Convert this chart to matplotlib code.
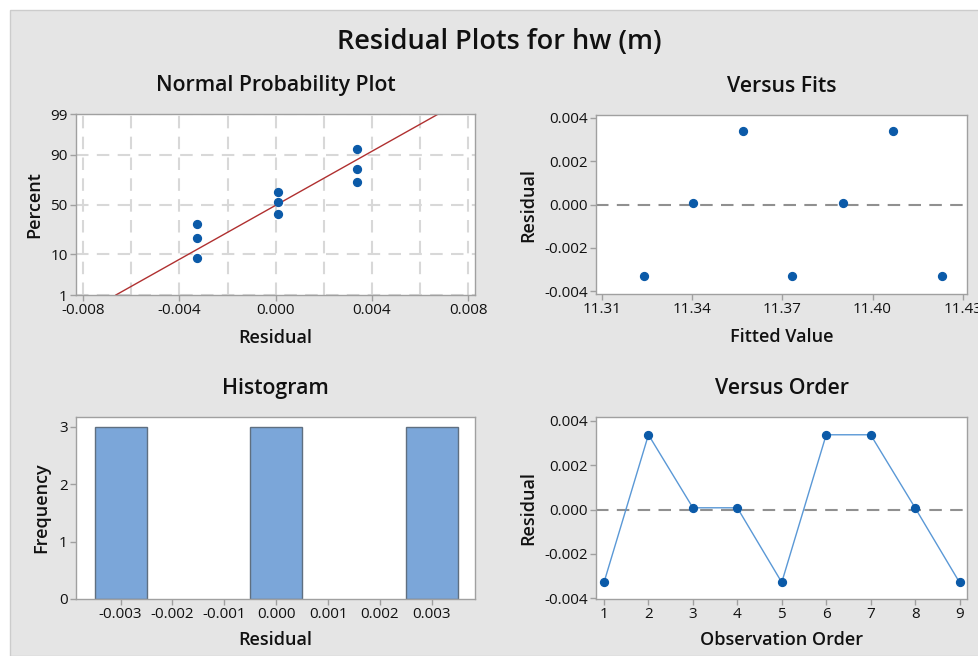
import matplotlib
matplotlib.use("Agg")
import matplotlib.pyplot as plt
from matplotlib.patches import Rectangle
from statistics import NormalDist
import numpy as np

# residuals in observation order
obs_order = [1, 2, 3, 4, 5, 6, 7, 8, 9]
residuals = [-0.00328, 0.00337, 0.00008, 0.00008, -0.00328, 0.00337, 0.00337, 0.00008, -0.00328]

# normal probability plot (sorted residuals vs percent)
npp_resid = [-0.00328, -0.00328, -0.00328, 0.00008, 0.00008, 0.00008, 0.00337, 0.00337, 0.00337]
npp_pct = [8.5, 19.7, 30.4, 40.3, 52.3, 62.2, 71.7, 81.9, 92.5]
pct_ticks = [1, 10, 50, 90, 99]

# versus fits
fits = [11.324, 11.3404, 11.3569, 11.3733, 11.3903, 11.4067, 11.4232]
fit_resid = [-0.00328, 0.00008, 0.00337, -0.00328, 0.00008, 0.00337, -0.00328]

# histogram
hist_centers = [-0.003, 0.000, 0.003]
hist_counts = [3, 3, 3]
hist_width = 0.001

BG = "#E5E5E5"
DOT = "#0B5AA8"
TXT = "#111111"
SPINE = "#A0A0A0"
LBL = dict(fontsize=13, fontweight="semibold", color=TXT)

plt.rcParams["font.family"] = ["Open Sans", "DejaVu Sans"]
plt.rcParams["font.size"] = 10

fig = plt.figure(figsize=(9.79, 6.56), dpi=100)
fig.patch.set_facecolor("white")
panel = Rectangle((10 / 979, 0), 1, 646 / 656, transform=fig.transFigure,
                  facecolor=BG, edgecolor="#CCCCCC", lw=1, zorder=-10)
fig.add_artist(panel)

fig.text(0.5105, 0.936, "Residual Plots for hw (m)", ha="center", va="center",
         fontsize=19.5, fontweight="semibold", color=TXT)


def style(ax):
    ax.set_facecolor("white")
    for s in ax.spines.values():
        s.set_color(SPINE)
        s.set_linewidth(1)
    ax.tick_params(direction="out", length=4, width=1, color=SPINE,
                   labelsize=11, labelcolor=TXT, pad=2)


def title(ax, txt):
    ax.set_title(txt, fontsize=15.3, fontweight="semibold", color=TXT, pad=16.5)


# ---- Normal probability plot
ax1 = fig.add_axes([0.0776, 0.5503, 0.4076, 0.2759])
style(ax1)
nd = NormalDist()
z = [nd.inv_cdf(p / 100) for p in npp_pct]
mu = np.mean(residuals)
sd = np.std(residuals, ddof=1)
zl = np.array([nd.inv_cdf(0.01), nd.inv_cdf(0.99)])
ax1.plot(mu + sd * zl, zl, color="#B03030", lw=1, zorder=2)
ax1.scatter(npp_resid, z, s=32, color=DOT, zorder=3)
ax1.set_xlim(-0.0083, 0.00828)
ax1.set_ylim(zl[0], zl[1])
ax1.set_xticks([-0.008, -0.004, 0.0, 0.004, 0.008])
ax1.set_xticklabels(["-0.008", "-0.004", "0.000", "0.004", "0.008"])
ax1.set_xticks(np.arange(-0.008, 0.0081, 0.002), minor=True)
ax1.tick_params(axis="x", which="minor", length=0)
ax1.set_yticks([nd.inv_cdf(p / 100) for p in pct_ticks])
ax1.set_yticklabels([str(p) for p in pct_ticks])
ax1.grid(True, which="both", color="#D8D8D8", lw=1.5, ls=(0, (6, 4)), zorder=0)
ax1.set_axisbelow(True)
ax1.set_xlabel("Residual", labelpad=8, **LBL)
ax1.set_ylabel("Percent", labelpad=5, **LBL)
title(ax1, "Normal Probability Plot")

# ---- Versus fits
ax2 = fig.add_axes([0.6088, 0.5518, 0.3790, 0.2729])
style(ax2)
ax2.axhline(0, color="#909090", lw=1.5, ls=(0, (6, 4)), zorder=1)
ax2.scatter(fits, fit_resid, s=32, color=DOT, zorder=3)
ax2.set_xlim(11.3081, 11.4314)
ax2.set_ylim(-0.00412, 0.00412)
ax2.set_xticks([11.31, 11.34, 11.37, 11.40, 11.43])
ax2.set_xticklabels(["11.31", "11.34", "11.37", "11.40", "11.43"])
ax2.set_yticks([-0.004, -0.002, 0.0, 0.002, 0.004])
ax2.set_yticklabels(["-0.004", "-0.002", "0.000", "0.002", "0.004"])
ax2.set_xlabel("Fitted Value", labelpad=8, **LBL)
ax2.set_ylabel("Residual", labelpad=5, **LBL)
title(ax2, "Versus Fits")

# ---- Histogram
ax3 = fig.add_axes([0.0776, 0.0869, 0.4076, 0.2774])
style(ax3)
ax3.bar(hist_centers, hist_counts, width=hist_width, color="#7BA6D9",
        edgecolor="#5F6F80", lw=1)
ax3.set_xlim(-0.00386, 0.00383)
ax3.set_ylim(0, 3.17)
ax3.set_xticks([-0.003, -0.002, -0.001, 0.0, 0.001, 0.002, 0.003])
ax3.set_xticklabels(["-0.003", "-0.002", "-0.001", "0.000", "0.001", "0.002", "0.003"])
ax3.set_yticks([0, 1, 2, 3])
ax3.set_xlabel("Residual", labelpad=6, **LBL)
ax3.set_ylabel("Frequency", labelpad=6, **LBL)
title(ax3, "Histogram")

# ---- Versus order
ax4 = fig.add_axes([0.6088, 0.0869, 0.3790, 0.2774])
style(ax4)
ax4.axhline(0, color="#909090", lw=1.5, ls=(0, (6, 4)), zorder=1)
ax4.plot(obs_order, residuals, color="#5A98D6", lw=1, zorder=2)
ax4.scatter(obs_order, residuals, s=32, color=DOT, zorder=3)
ax4.set_xlim(0.82, 9.17)
ax4.set_ylim(-0.00403, 0.00417)
ax4.set_xticks(obs_order)
ax4.set_yticks([-0.004, -0.002, 0.0, 0.002, 0.004])
ax4.set_yticklabels(["-0.004", "-0.002", "0.000", "0.002", "0.004"])
ax4.set_xlabel("Observation Order", labelpad=6, **LBL)
ax4.set_ylabel("Residual", labelpad=5, **LBL)
title(ax4, "Versus Order")

fig.savefig("out.png", dpi=100, facecolor=fig.get_facecolor())
